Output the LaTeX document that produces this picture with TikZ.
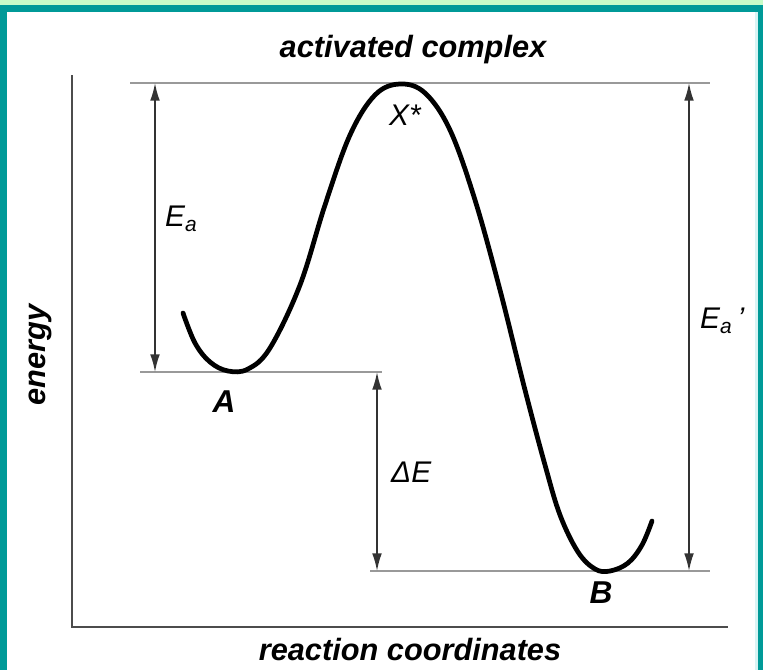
\documentclass[tikz,border=0pt]{standalone}
\usepackage{fontspec}
\setmainfont{Liberation Sans}
\usetikzlibrary{arrows.meta}

\definecolor{frameteal}{HTML}{009A98}
\definecolor{framegreen}{HTML}{C8FCC8}
\definecolor{framecyan}{HTML}{D8F4F4}

\begin{document}
\begin{tikzpicture}[x=0.02cm, y=-0.02cm]
    \tikzstyle{axisline} = [draw=black!70, line width=1.4pt]
    \tikzstyle{levelline} = [draw=black!40, line width=1.1pt]
    \tikzstyle{dimarrow} = [draw=black!80, line width=0.9pt, {Latex[length=10pt,width=5.5pt]}-{Latex[length=10pt,width=5.5pt]}]
    \tikzstyle{curveline} = [draw=black, line width=2.7pt, line cap=round]
    \tikzstyle{title} = [font=\fontsize{17.5}{17.5}\selectfont\bfseries\itshape]
    \tikzstyle{symb} = [font=\fontsize{17}{17}\selectfont\itshape]
    \tikzstyle{state} = [font=\fontsize{18}{18}\selectfont\bfseries\itshape]

    % frame
    \useasboundingbox (0,0) rectangle (763,670);
    \fill[framegreen] (0,0) rectangle (763,5);
    \fill[frameteal] (0,5) rectangle (763,12);
    \fill[frameteal] (0,5) rectangle (7,670);
    \fill[frameteal] (758,5) rectangle (763,670);
    \fill[framecyan] (755,12) rectangle (758,670);

    % axes
    \coordinate (ytop) at (72,75);
    \coordinate (origin) at (72,627);
    \coordinate (xend) at (728,627);
    \draw[axisline] (ytop) -- (origin) -- (xend);

    % energy levels
    \coordinate (peakL) at (130,83);
    \coordinate (peakR) at (710,83);
    \coordinate (lvlAL) at (140,372);
    \coordinate (lvlAR) at (382,372);
    \coordinate (lvlBL) at (370,571);
    \coordinate (lvlBR) at (710,571);
    \draw[levelline] (peakL) -- (peakR);
    \draw[levelline] (lvlAL) -- (lvlAR);
    \draw[levelline] (lvlBL) -- (lvlBR);

    % arrows
    \coordinate (eaT) at (155,83);
    \coordinate (eaB) at (155,372);
    \coordinate (deT) at (377,372);
    \coordinate (deB) at (377,571);
    \coordinate (ebT) at (689,83);
    \coordinate (ebB) at (689,571);
    \draw[dimarrow] (eaT) -- (eaB);
    \draw[dimarrow] (deT) -- (deB);
    \draw[dimarrow] (ebT) -- (ebB);

    % reaction path
    \draw[curveline] plot[smooth, tension=0.6] coordinates {
      (183,313) (195,343) (210,362) (228,371) (248,369) (270,348)
      (300,285) (325,205) (350,135) (375,95) (400,84) (425,93)
      (450,130) (475,200) (500,290) (525,390) (545,465) (560,515)
      (578,552) (595,569) (610,571) (628,563) (642,545) (652,521)};

    % labels
    \node (title) [title] at (413,50) {activated complex};
    \node (xlabel) [title] at (410,650) {reaction coordinates};
    \node (ylabel) [title, rotate=90] at (40,355) {energy};
    \node (ts) [symb] at (405,115) {X*};
    \node (reac) [state] at (224,402) {A};
    \node (prod) [state] at (601,593) {B};
    \node (ea) [symb, anchor=west] at (159,219) {E\textsubscript{a}};
    \node (de) [symb, anchor=west] at (385,472) {ΔE};
    \node (eb) [symb, anchor=west] at (694,321) {E\textsubscript{a}\,'};
\end{tikzpicture}
\end{document}
